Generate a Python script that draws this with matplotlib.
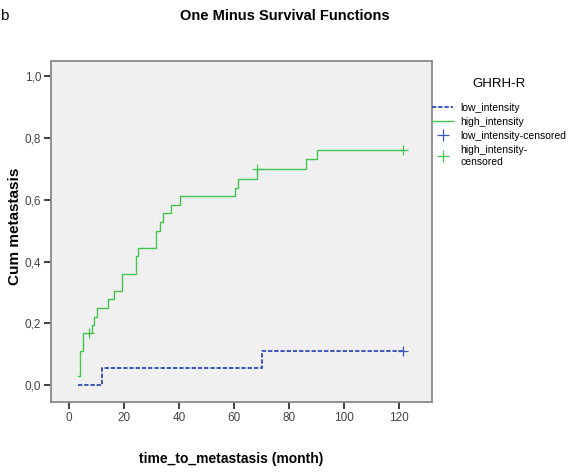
import matplotlib.pyplot as plt
from matplotlib.lines import Line2D

# step curves (time in months, cumulative metastasis)
high_t = [3.3, 4.1, 5.1, 8.3, 9.2, 10.2, 14.2, 16.3, 19.1, 24.2, 25.2, 31.5, 33.2,
          34.1, 37.2, 40.2, 60.2, 61.3, 68.3, 86.3, 90.2, 121.3]
high_v = [0.028, 0.111, 0.167, 0.194, 0.222, 0.250, 0.278, 0.306, 0.361, 0.417, 0.444,
          0.500, 0.528, 0.556, 0.583, 0.611, 0.639, 0.667, 0.701, 0.731, 0.760, 0.760]
high_cens_t = [7.2, 68.3, 121.3]
high_cens_v = [0.167, 0.701, 0.760]

low_t = [3.3, 12.1, 70.2, 121.3]
low_v = [0.0, 0.056, 0.111, 0.111]
low_cens_t = [121.3]
low_cens_v = [0.111]

xticks = [0, 20, 40, 60, 80, 100, 120]
yticks = [0.0, 0.2, 0.4, 0.6, 0.8, 1.0]
ytick_labels = ['0,0', '0,2', '0,4', '0,6', '0,8', '1,0']

green = '#45c452'
blue = '#3d55bd'
dashes = (0, (2.2, 1.0))

plt.rcParams['font.family'] = ['Liberation Sans Narrow', 'Liberation Sans', 'DejaVu Sans']

fig = plt.figure(figsize=(5.71, 4.73), dpi=100)
ax = fig.add_axes([51 / 571, 1 - 402 / 473, (432 - 51) / 571, (402 - 61) / 473])
ax.set_facecolor('#f0f0f0')

ax.step(low_t, low_v, where='post', color=blue, lw=1.4, linestyle=dashes)
ax.step(high_t, high_v, where='post', color=green, lw=1.0)
ax.plot(low_cens_t, low_cens_v, '+', color=blue, ms=7, mew=0.9)
ax.plot(high_cens_t, high_cens_v, '+', color=green, ms=7, mew=0.9)

ax.set_xlim(-6.6, 132)
ax.set_ylim(-0.055, 1.05)
ax.set_xticks(xticks)
ax.set_xticklabels([str(x) for x in xticks], fontsize=8.5, color='#444444')
ax.set_yticks(yticks)
ax.set_yticklabels(ytick_labels, fontsize=8.5, color='#444444')
ax.tick_params(direction='out', length=5, width=1.3, color='#333333', pad=2)
for s in ax.spines.values():
    s.set_color('#888888')
    s.set_linewidth(1.3)

fig.text(231 / 571, 1 - 459 / 473, 'time_to_metastasis (month)', ha='center', va='center',
         fontsize=10, fontweight='bold')
fig.text(15 / 571, 1 - 226 / 473, 'Cum metastasis', ha='center', va='center', rotation=90,
         fontsize=11, fontweight='bold')
fig.text(285 / 571, 1 - 16 / 473, 'One Minus Survival Functions', ha='center', va='center',
         fontsize=10.5, fontweight='bold')
fig.text(0.0, 1 - 16 / 473, 'b', ha='left', va='center', fontsize=11)

handles = [
    Line2D([], [], color=blue, lw=1.4, linestyle=dashes),
    Line2D([], [], color=green, lw=1.0),
    Line2D([], [], color=blue, marker='+', ls='none', ms=8, mew=0.9),
    Line2D([], [], color=green, marker='+', ls='none', ms=8, mew=0.9),
]
labels = ['low_intensity', 'high_intensity', 'low_intensity-censored', 'high_intensity-\ncensored']
leg = fig.legend(handles, labels, loc='upper left', bbox_to_anchor=(428 / 571, 1 - 74 / 473),
                 frameon=False, fontsize=7.5, title='GHRH-R', title_fontsize=9.5,
                 handlelength=2.0, handletextpad=0.7, labelspacing=0.4, borderaxespad=0)
leg._legend_box.align = 'center'
leg._legend_box.sep = 9

fig.savefig('out.png', dpi=100)
